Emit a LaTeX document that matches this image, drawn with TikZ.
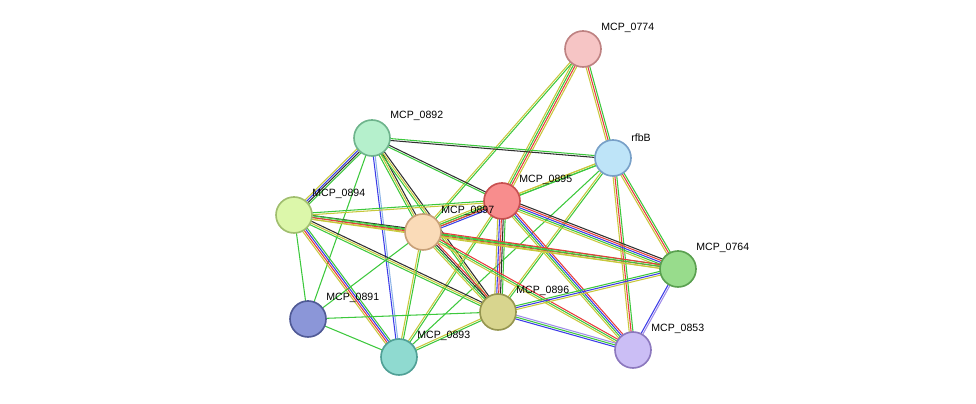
\documentclass[tikz,border=0pt]{standalone}
\usepackage{fontspec}
\setmainfont{Liberation Sans}
\usetikzlibrary{calc}
\pgfdeclarelayer{bg}
\pgfsetlayers{bg,main}
\definecolor{cy}{HTML}{C8C83C}
\definecolor{cg}{HTML}{3CC83C}
\definecolor{cr}{HTML}{E83C3C}
\definecolor{cb}{HTML}{3C3CE8}
\definecolor{ck}{HTML}{303030}
\definecolor{cp}{HTML}{A08CE8}
\definecolor{cl}{HTML}{8CB4E8}
\tikzset{
  prot/.style={circle, draw, line width=1.4pt, minimum size=1.08cm, inner sep=0pt},
  lbl/.style={font=\fontsize{9}{10}\selectfont, anchor=south west, inner sep=1pt}
}
% link between two proteins: from, to, number of lines, colours
\newcommand\lnk[4]{%
  \foreach \c [count=\i] in {#4} {
    \pgfmathsetmacro\o{(\i-(#3+1)/2)*1.6}
    \draw[\c, line width=0.9pt] ($(#1)!\o pt!90:(#2)$) -- ($(#2)!\o pt!-90:(#1)$);
  }}
\begin{document}
\begin{tikzpicture}[x=0.03cm, y=-0.03cm]
\useasboundingbox (0,0) rectangle (976,404);

\node[prot, fill={rgb,255:red,246;green,197;blue,197}, draw={rgb,255:red,190;green,130;blue,130}] (m0774) at (583,49) {};
\node[prot, fill={rgb,255:red,190;green,228;blue,248}, draw={rgb,255:red,120;green,160;blue,200}] (rfbB) at (613,158) {};
\node[prot, fill={rgb,255:red,181;green,240;blue,204}, draw={rgb,255:red,110;green,180;blue,140}] (m0892) at (372,138) {};
\node[prot, fill={rgb,255:red,248;green,141;blue,141}, draw={rgb,255:red,200;green,80;blue,80}] (m0895) at (502,201) {};
\node[prot, fill={rgb,255:red,220;green,247;blue,170}, draw={rgb,255:red,160;green,190;blue,110}] (m0894) at (294,215) {};
\node[prot, fill={rgb,255:red,250;green,219;blue,184}, draw={rgb,255:red,200;green,160;blue,120}] (m0897) at (423,232) {};
\node[prot, fill={rgb,255:red,152;green,220;blue,140}, draw={rgb,255:red,90;green,160;blue,80}] (m0764) at (678,269) {};
\node[prot, fill={rgb,255:red,139;green,150;blue,216}, draw={rgb,255:red,80;green,90;blue,150}] (m0891) at (308,319) {};
\node[prot, fill={rgb,255:red,216;green,213;blue,142}, draw={rgb,255:red,150;green,150;blue,80}] (m0896) at (498,312) {};
\node[prot, fill={rgb,255:red,143;green,218;blue,208}, draw={rgb,255:red,80;green,160;blue,150}] (m0893) at (399,357) {};
\node[prot, fill={rgb,255:red,203;green,190;blue,245}, draw={rgb,255:red,140;green,120;blue,190}] (m0853) at (633,350) {};

\node[lbl] at (600,34) {MCP\_0774};
\node[lbl] at (630,143) {rfbB};
\node[lbl] at (389,122) {MCP\_0892};
\node[lbl] at (518,186) {MCP\_0895};
\node[lbl] at (311,200) {MCP\_0894};
\node[lbl] at (440,217) {MCP\_0897};
\node[lbl] at (695,254) {MCP\_0764};
\node[lbl] at (325,304) {MCP\_0891};
\node[lbl] at (515,297) {MCP\_0896};
\node[lbl] at (416,342) {MCP\_0893};
\node[lbl] at (650,335) {MCP\_0853};

\begin{pgfonlayer}{bg}
\lnk{m0774}{m0895}{4}{cy,cg,cr,cy}
\lnk{m0774}{m0897}{2}{cy,cg}
\lnk{m0774}{rfbB}{3}{cy,cr,cg}
\lnk{rfbB}{m0892}{2}{cg,ck}
\lnk{rfbB}{m0895}{2}{cy,cg}
\lnk{rfbB}{m0897}{2}{cy,cg}
\lnk{rfbB}{m0896}{2}{cy,cg}
\lnk{rfbB}{m0893}{1}{cg}
\lnk{rfbB}{m0764}{3}{cy,cr,cg}
\lnk{rfbB}{m0853}{3}{cy,cr,cg}
\lnk{m0892}{m0895}{2}{cg,ck}
\lnk{m0892}{m0894}{4}{cy,cb,ck,cg}
\lnk{m0892}{m0897}{3}{cg,cy,ck}
\lnk{m0892}{m0896}{3}{cg,cy,ck}
\lnk{m0892}{m0893}{2}{cb,cl}
\lnk{m0892}{m0891}{1}{cg}
\lnk{m0895}{m0894}{2}{cg,cy}
\lnk{m0895}{m0897}{4}{cy,cg,cr,cb}
\lnk{m0895}{m0896}{5}{cy,cb,cr,ck,cg}
\lnk{m0895}{m0764}{5}{cy,cg,cb,cr,ck}
\lnk{m0895}{m0853}{4}{cy,cg,cb,cr}
\lnk{m0895}{m0893}{2}{cy,cg}
\lnk{m0894}{m0897}{3}{cy,cg,ck}
\lnk{m0894}{m0896}{3}{cg,cy,ck}
\lnk{m0894}{m0893}{4}{cy,cr,cb,cg}
\lnk{m0894}{m0891}{1}{cg}
\lnk{m0894}{m0764}{3}{cy,cr,cg}
\lnk{m0897}{m0896}{4}{cy,cg,ck,cr}
\lnk{m0897}{m0893}{2}{cy,cg}
\lnk{m0897}{m0891}{1}{cg}
\lnk{m0897}{m0764}{3}{cy,cg,cr}
\lnk{m0897}{m0853}{3}{cy,cg,cr}
\lnk{m0891}{m0896}{1}{cg}
\lnk{m0891}{m0893}{1}{cg}
\lnk{m0896}{m0893}{2}{cy,cg}
\lnk{m0896}{m0764}{3}{cy,cb,cg}
\lnk{m0896}{m0853}{3}{cb,cg,cp}
\lnk{m0764}{m0853}{2}{cb,cp}
\end{pgfonlayer}
\end{tikzpicture}
\end{document}
